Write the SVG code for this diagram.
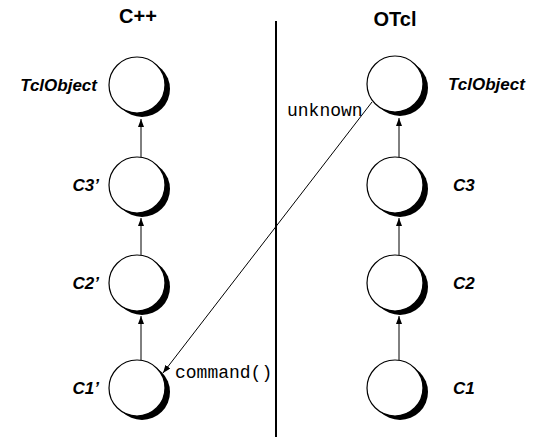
<svg xmlns="http://www.w3.org/2000/svg" width="538" height="440" viewBox="0 0 538 440">
<defs>
<style>
.title{font-family:"Liberation Sans",Arial,sans-serif;font-weight:bold;font-size:20px;fill:#000}
.lbl{font-family:"Liberation Sans",Arial,sans-serif;font-weight:bold;font-style:italic;font-size:17px;fill:#000}
.mono{font-family:"Liberation Mono","Courier New",monospace;font-size:18px;fill:#000}
.body{fill:#fff;stroke:#000;stroke-width:1.2}
.shadow{fill:#000}
.edge{stroke:#000;stroke-width:1;fill:none}
</style>
<marker id="ah" markerUnits="userSpaceOnUse" markerWidth="10" markerHeight="8" refX="8" refY="3" orient="auto">
<path d="M0,0 L8,3 L0,6 Z" fill="#000"/>
</marker>
<g id="node">
<circle class="shadow" cx="5" cy="4" r="28"/>
<circle class="body" cx="0" cy="0" r="28"/>
</g>
</defs>
<rect width="538" height="440" fill="#fff"/>
<text class="title" x="138" y="23" text-anchor="middle">C++</text>
<text class="title" x="395" y="26" text-anchor="middle">OTcl</text>
<line x1="276" y1="21" x2="276" y2="437" stroke="#000" stroke-width="2"/>
<g id="connectors">
<line class="edge" x1="141" y1="157" x2="141" y2="119" marker-end="url(#ah)"/>
<line class="edge" x1="141" y1="255" x2="141" y2="218" marker-end="url(#ah)"/>
<line class="edge" x1="141" y1="360" x2="141" y2="316" marker-end="url(#ah)"/>
<line class="edge" x1="399" y1="157" x2="399" y2="118" marker-end="url(#ah)"/>
<line class="edge" x1="399" y1="255" x2="399" y2="218" marker-end="url(#ah)"/>
<line class="edge" x1="399" y1="360" x2="399" y2="316" marker-end="url(#ah)"/>
<line class="edge" x1="372" y1="102" x2="163" y2="373" marker-end="url(#ah)"/>
<text class="mono" x="287" y="116">unknown</text>
<text class="mono" x="175" y="378">command()</text>
</g>
<g id="n-cpp-tclobject"><use href="#node" x="137" y="85"/><text class="lbl" x="97" y="91" text-anchor="end">TclObject</text></g>
<g id="n-cpp-c3"><use href="#node" x="137" y="185"/><text class="lbl" x="99" y="191" text-anchor="end">C3’</text></g>
<g id="n-cpp-c2"><use href="#node" x="137" y="283"/><text class="lbl" x="99" y="289" text-anchor="end">C2’</text></g>
<g id="n-cpp-c1"><use href="#node" x="137" y="388"/><text class="lbl" x="99" y="394" text-anchor="end">C1’</text></g>
<g id="n-otcl-tclobject"><use href="#node" x="395" y="84"/><text class="lbl" x="448" y="90">TclObject</text></g>
<g id="n-otcl-c3"><use href="#node" x="395" y="185"/><text class="lbl" x="453" y="191">C3</text></g>
<g id="n-otcl-c2"><use href="#node" x="395" y="283"/><text class="lbl" x="453" y="289">C2</text></g>
<g id="n-otcl-c1"><use href="#node" x="395" y="388"/><text class="lbl" x="453" y="394">C1</text></g>
</svg>
